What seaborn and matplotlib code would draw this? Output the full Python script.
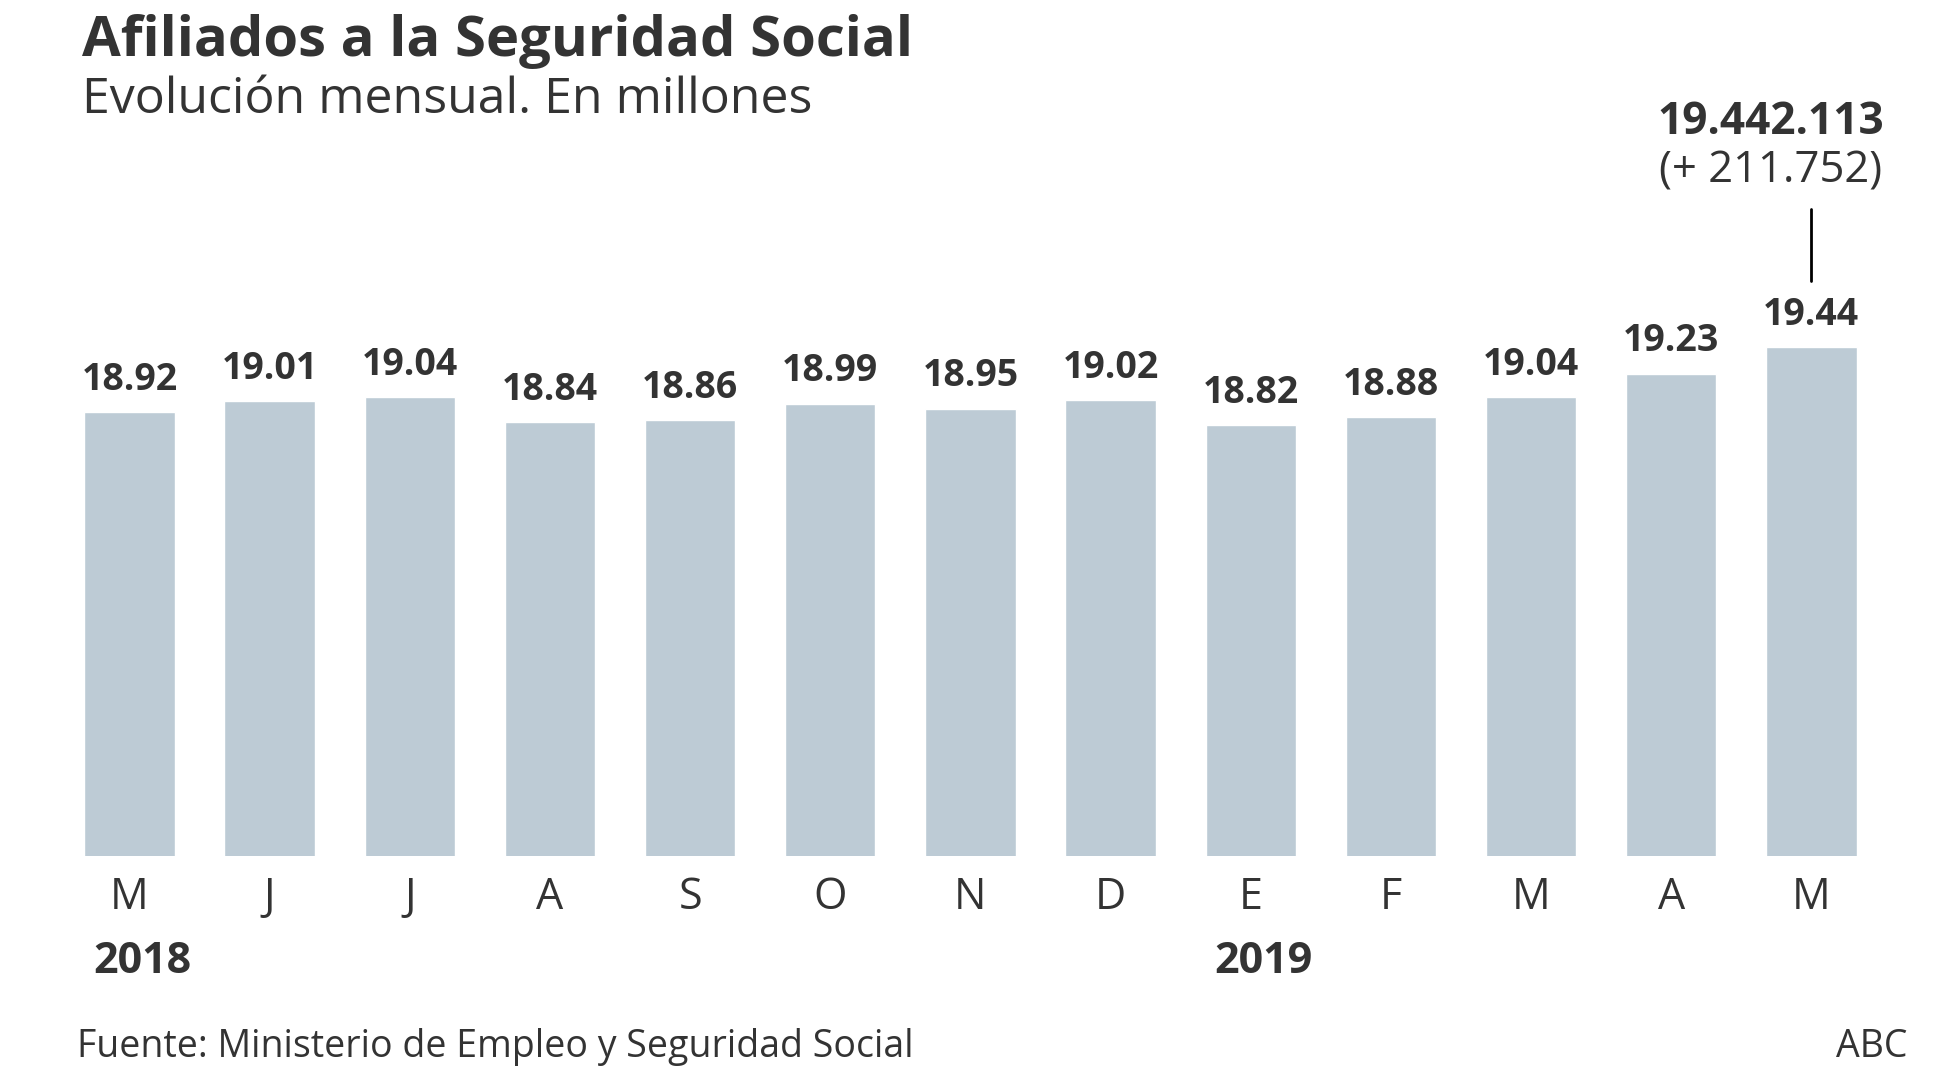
import matplotlib
matplotlib.use("Agg")
import matplotlib.pyplot as plt
import matplotlib.transforms as mtransforms
import seaborn as sns
import pandas as pd

# ---- data ----
period_ids = ["2018-05", "2018-06", "2018-07", "2018-08", "2018-09", "2018-10", "2018-11",
              "2018-12", "2019-01", "2019-02", "2019-03", "2019-04", "2019-05"]
month_letters = ["M", "J", "J", "A", "S", "O", "N", "D", "E", "F", "M", "A", "M"]
values = [18.92, 19.01, 19.04, 18.84, 18.86, 18.99, 18.95, 19.02, 18.82, 18.88, 19.04, 19.23, 19.44]
year_labels = ["2018", "2019"]
year_positions = [0, 8]
title = "Afiliados a la Seguridad Social"
subtitle = "Evolución mensual. En millones"
source = "Fuente: Ministerio de Empleo y Seguridad Social"
credit = "ABC"
last_total = "19.442.113"
last_change = "(+ 211.752)"

df = pd.DataFrame({"period": period_ids, "value": values})

sns.set_theme(style="white")
plt.rcParams["font.family"] = ["Open Sans", "DejaVu Sans"]
TXT = "#333333"
BAR = "#BDCBD5"

W, H = 1937, 1090
fig = plt.figure(figsize=(W / 100, H / 100), dpi=100)
ax = fig.add_axes([59.4 / W, 1 - 856 / H, 1822 / W, 756 / H])

sns.barplot(data=df, x="period", y="value", order=period_ids, color=BAR,
            saturation=1, width=0.645, ax=ax)
ax.set_ylim(15.37, 21.42)
ax.set_xlim(-0.5, len(values) - 0.5)
for s in ax.spines.values():
    s.set_visible(False)
ax.set_yticks([])
ax.set_xlabel("")
ax.set_ylabel("")
ax.set_xticks(range(len(values)))
ax.set_xticklabels(month_letters, fontsize=31, color=TXT)
ax.tick_params(axis="x", length=0, pad=14)

for i, v in enumerate(values):
    ax.annotate(f"{v:.2f}", (i, v), xytext=(0, 16), textcoords="offset points",
                ha="center", va="baseline", fontsize=27, fontweight="bold", color=TXT)

tr = mtransforms.blended_transform_factory(ax.transData, fig.transFigure)

# year labels
for yl, yp in zip(year_labels, year_positions):
    ax.text(yp + 0.09, 1 - 973 / H, yl, transform=tr,
            ha="center", va="baseline", fontsize=31, fontweight="bold", color=TXT)

# annotation for last bar
last = len(values) - 1
ax.plot([last, last], [1 - 209 / H, 1 - 281 / H], transform=tr, color="black", lw=2,
        clip_on=False)
ax.text(last - 0.29, 1 - 134 / H, last_total, transform=tr, ha="center", va="baseline",
        fontsize=31.8, fontweight="bold", color=TXT)
ax.text(last - 0.29, 1 - 183 / H, last_change, transform=tr, ha="center", va="baseline",
        fontsize=31.4, color=TXT)

fig.text(82 / W, 1 - 56 / H, title, ha="left", va="baseline", fontsize=40.5,
         fontweight="bold", color=TXT)
fig.text(82 / W, 1 - 113 / H, subtitle, ha="left", va="baseline", fontsize=36, color=TXT)
fig.text(77 / W, 1 - 1057 / H, source, ha="left", va="baseline", fontsize=27, color=TXT)
fig.text(1908 / W, 1 - 1057 / H, credit, ha="right", va="baseline", fontsize=27, color=TXT)

fig.savefig("out.png", dpi=100, facecolor="white")
